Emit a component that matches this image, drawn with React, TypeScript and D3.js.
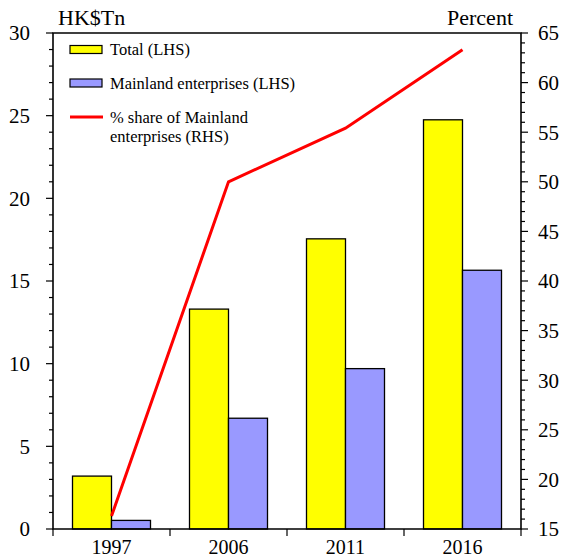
import React from "react";
import * as d3 from "d3";

const years = ["1997", "2006", "2011", "2016"];
const totalValues = [3.2, 13.3, 17.55, 24.75];
const mainlandValues = [0.52, 6.7, 9.7, 15.65];
const shareValues = [16.3, 50.0, 55.4, 63.3];
const leftTicks = [0, 5, 10, 15, 20, 25, 30];
const rightTicks = [15, 20, 25, 30, 35, 40, 45, 50, 55, 60, 65];

const width = 564;
const height = 560;
const margin = { top: 33, right: 43, bottom: 31, left: 53 };
const font = "'Liberation Serif', 'Times New Roman', serif";

const x = d3
  .scaleBand()
  .domain(years)
  .range([margin.left, width - margin.right]);
const yLeft = d3
  .scaleLinear()
  .domain([0, 30])
  .range([height - margin.bottom, margin.top]);
const yRight = d3
  .scaleLinear()
  .domain([15, 65])
  .range([height - margin.bottom, margin.top]);

const barW = x.bandwidth() / 3;
const linePath = d3
  .line<number>()
  .x((_, i) => (x(years[i]) as number) + x.bandwidth() / 2)
  .y(d => yRight(d))(shareValues);

export default function App() {
  const x0 = margin.left;
  const x1 = width - margin.right;
  const y0 = height - margin.bottom;
  const y1 = margin.top;
  const leftMinor = d3.range(0, 31, 1);
  const rightMinor = d3.range(15, 66, 1);
  const boundaries = years.map(y => x(y) as number).concat([x1]);

  return (
    <svg
      width={width}
      height={height}
      style={{ position: "absolute", left: 0, top: 0, fontFamily: font }}
    >
      {/* bars */}
      {years.map((yr, i) => {
        const cx = (x(yr) as number) + x.bandwidth() / 2;
        return (
          <g key={yr} stroke="#000" strokeWidth={1.3}>
            <rect
              x={cx - barW}
              y={yLeft(totalValues[i])}
              width={barW}
              height={y0 - yLeft(totalValues[i])}
              fill="#ffff00"
            />
            <rect
              x={cx}
              y={yLeft(mainlandValues[i])}
              width={barW}
              height={y0 - yLeft(mainlandValues[i])}
              fill="#9999ff"
            />
          </g>
        );
      })}

      <path d={linePath || ""} fill="none" stroke="#ff0000" strokeWidth={3} />

      {/* frame */}
      <path
        d={`M${x0},${y0}V${y1}H${x1}V${y0}Z`}
        fill="none"
        stroke="#000"
        strokeWidth={1.6}
      />

      {/* left axis */}
      {leftMinor.map(v => (
        <line
          key={"lm" + v}
          x1={x0}
          x2={x0 - (v % 5 === 0 ? 7 : 4)}
          y1={yLeft(v)}
          y2={yLeft(v)}
          stroke="#000"
          strokeWidth={1.2}
        />
      ))}
      {leftTicks.map(v => (
        <text
          key={"lt" + v}
          x={30}
          y={yLeft(v)}
          dy="0.35em"
          textAnchor="end"
          fontSize={21}
        >
          {v}
        </text>
      ))}

      {/* right axis */}
      {rightMinor.map(v => (
        <line
          key={"rm" + v}
          x1={x1}
          x2={x1 + (v % 5 === 0 ? 7 : 4)}
          y1={yRight(v)}
          y2={yRight(v)}
          stroke="#000"
          strokeWidth={1.2}
        />
      ))}
      {rightTicks.map(v => (
        <text
          key={"rt" + v}
          x={538}
          y={yRight(v)}
          dy="0.35em"
          textAnchor="start"
          fontSize={21}
        >
          {v}
        </text>
      ))}

      {/* x axis */}
      {boundaries.map((b, i) => (
        <line
          key={"xb" + i}
          x1={b}
          x2={b}
          y1={y0}
          y2={y0 + 7}
          stroke="#000"
          strokeWidth={1.2}
        />
      ))}
      {years.map(yr => (
        <text
          key={"xl" + yr}
          x={(x(yr) as number) + x.bandwidth() / 2}
          y={554}
          textAnchor="middle"
          fontSize={20}
        >
          {yr}
        </text>
      ))}

      {/* axis titles */}
      <text x={58} y={25} fontSize={22}>
        HK$Tn
      </text>
      <text x={513} y={25} fontSize={22} textAnchor="end">
        Percent
      </text>

      {/* legend */}
      <g fontSize={16.5}>
        <rect x={70} y={45.5} width={32} height={8} fill="#ffff00" stroke="#000" strokeWidth={1.2} />
        <text x={110} y={55}>Total (LHS)</text>
        <rect x={70} y={79} width={32} height={8} fill="#9999ff" stroke="#000" strokeWidth={1.2} />
        <text x={110} y={88.5}>Mainland enterprises (LHS)</text>
        <line x1={70} x2={103} y1={117} y2={117} stroke="#ff0000" strokeWidth={3} />
        <text x={110} y={122.5}>% share of Mainland</text>
        <text x={110} y={141.5}>enterprises (RHS)</text>
      </g>
    </svg>
  );
}
